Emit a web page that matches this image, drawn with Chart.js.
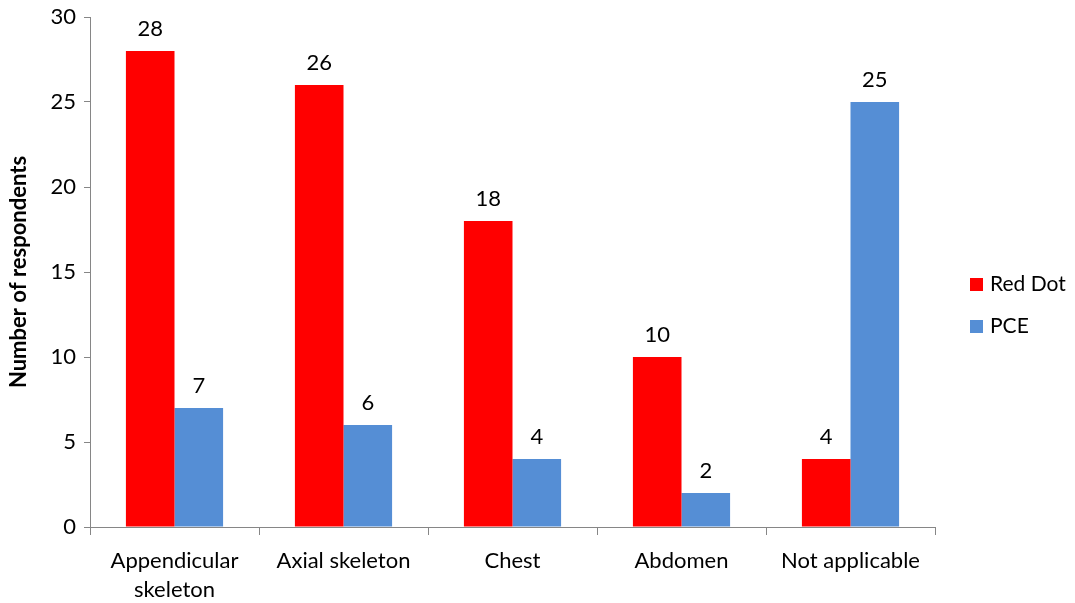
<!DOCTYPE html>
<html>
<head>
<meta charset="utf-8">
<script src="https://cdn.jsdelivr.net/npm/chart.js@4/dist/chart.umd.min.js"></script>
<style>
  body { margin: 0; background: #fff; }
  #wrap { width: 1075px; height: 603px; }
</style>
</head>
<body>
<div id="wrap"><canvas id="chart"></canvas></div>
<script>
const categories = [['Appendicular', 'skeleton'], 'Axial skeleton', 'Chest', 'Abdomen', 'Not applicable'];
const redDot = [28, 26, 18, 10, 4];
const pce = [7, 6, 4, 2, 25];
const yTicks = [0, 5, 10, 15, 20, 25, 30];

const FONT = 'Lato, "Open Sans", sans-serif';

// values above each bar
const barValues = {
    id: 'barValues',
    afterDatasetsDraw(chart) {
        const ctx = chart.ctx;
        ctx.save();
        ctx.font = '22px ' + FONT;
        ctx.fillStyle = '#000';
        ctx.textAlign = 'center';
        ctx.textBaseline = 'alphabetic';
        chart.data.datasets.forEach((ds, i) => {
            chart.getDatasetMeta(i).data.forEach((bar, j) => {
                ctx.fillText(ds.data[j], bar.x, bar.y - 15);
            });
        });
        ctx.restore();
    }
};

// legend drawn at the right like the original
const sideLegend = {
    id: 'sideLegend',
    afterDraw(chart) {
        const ctx = chart.ctx;
        ctx.save();
        ctx.font = '21px ' + FONT;
        ctx.textBaseline = 'middle';
        chart.data.datasets.forEach((ds, i) => {
            const y = 284 + i * 42;
            ctx.fillStyle = ds.backgroundColor;
            ctx.fillRect(970, y - 6, 13, 13);
            ctx.fillStyle = '#000';
            ctx.fillText(ds.label, 990, y);
        });
        ctx.restore();
    }
};

const ctx = document.getElementById('chart').getContext('2d');
const chart = new Chart(ctx, {
    type: 'bar',
    data: {
        labels: categories,
        datasets: [
            { label: 'Red Dot', data: redDot, backgroundColor: '#FF0000' },
            { label: 'PCE', data: pce, backgroundColor: '#558ED5' }
        ]
    },
    options: {
        responsive: true,
        maintainAspectRatio: false,
        animation: false,
        layout: { padding: { top: 17, right: 140, bottom: 0, left: 0 } },
        datasets: { bar: { categoryPercentage: 0.575, barPercentage: 1 } },
        plugins: {
            legend: { display: false },
            tooltip: { enabled: false }
        },
        scales: {
            x: {
                afterFit(scale) { scale.height = 76; },
                border: { color: '#868686', width: 1 },
                grid: { offset: true, drawOnChartArea: false, tickLength: 8, color: '#868686' },
                ticks: { color: '#000', font: { family: FONT, size: 22, lineHeight: 1.3 }, padding: 12, maxRotation: 0 }
            },
            y: {
                min: 0,
                max: 30,
                afterFit(scale) { scale.width = 90; scale.paddingTop = 0; },
                afterBuildTicks(scale) { scale.ticks = yTicks.map(v => ({ value: v })); },
                border: { color: '#868686', width: 1 },
                grid: { drawOnChartArea: false, tickLength: 6, color: '#868686' },
                ticks: { color: '#000', font: { family: FONT, size: 22 }, padding: 8 },
                title: {
                    display: true,
                    text: 'Number of respondents',
                    color: '#000',
                    font: { family: FONT, size: 22, weight: 'bold' },
                    padding: { top: 6, bottom: 0 }
                }
            }
        }
    },
    plugins: [barValues, sideLegend]
});
</script>
</body>
</html>
